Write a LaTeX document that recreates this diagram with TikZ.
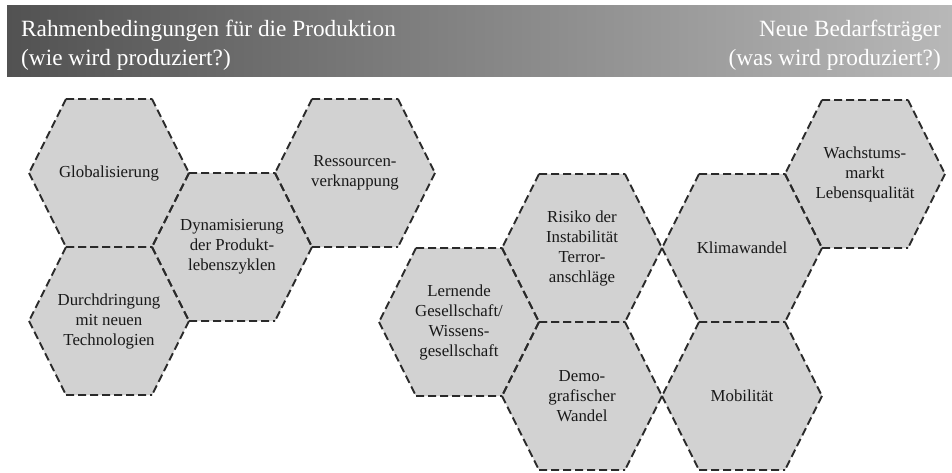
\documentclass[tikz,border=0pt]{standalone}
\usepackage{fontspec}
\setmainfont{Liberation Serif}
\usetikzlibrary{backgrounds}

\definecolor{kopfdunkel}{HTML}{525252}
\definecolor{kopfhell}{HTML}{B8B8B8}
\definecolor{wabegrau}{HTML}{D2D2D2}
\definecolor{kante}{HTML}{2A2A2A}

\begin{document}
\begin{tikzpicture}[x=1pt, y=-1pt]
  % Stile
  \tikzstyle{kopf}=[inner sep=0pt, text=white, font=\fontsize{23.3}{29}\selectfont]
  \tikzstyle{wabetext}=[inner sep=0pt, align=center, text=black!90, font=\fontsize{16.8}{20}\selectfont]
  \tikzstyle{wabefill}=[fill=wabegrau]
  \tikzstyle{wabekante}=[draw=kante, line width=1.9pt, dash pattern=on 8pt off 4pt]

  \useasboundingbox (0,0) rectangle (952,473);

  % Kopfzeile
  \shade[left color=kopfdunkel, right color=kopfhell] (7,6) rectangle (952,77);
  \node[kopf, anchor=west, align=left] (wie) at (21,45) {Rahmenbedingungen f\"ur die Produktion\\(wie wird produziert?)};
  \node[kopf, anchor=east, align=right] (was) at (941,45) {Neue Bedarfstr\"ager\\(was wird produziert?)};

  % Rahmenbedingungen
  \node[wabetext] (glob) at (109,173) {Globalisierung};
  \node[wabetext] (durch) at (109,321) {Durchdringung\\mit neuen\\Technologien};
  \node[wabetext] (dyn) at (232,247) {Dynamisierung\\der Produkt-\\lebenszyklen};
  \node[wabetext] (res) at (355,173) {Ressourcen-\\verknappung};

  % Bedarfstraeger
  \node[wabetext] (lern) at (459,322) {Lernende\\Gesellschaft/\\Wissens-\\gesellschaft};
  \node[wabetext] (risiko) at (582,248) {Risiko der\\Instabilit\"at\\Terror-\\anschl\"age};
  \node[wabetext] (demo) at (582,396) {Demo-\\grafischer\\Wandel};
  \node[wabetext] (klima) at (742,248) {Klimawandel};
  \node[wabetext] (mobil) at (742,396) {Mobilit\"at};
  \node[wabetext] (wachs) at (865,174) {Wachstums-\\markt\\Lebensqualit\"at};

  % Waben
  \begin{scope}[on background layer]
    \foreach \n in {glob,durch,dyn,res,lern,risiko,demo,klima,mobil,wachs}
      \fill[wabefill] (\n.center) +(-80,0) -- +(-43,-74) -- +(43,-74) -- +(80,0) -- +(43,74) -- +(-43,74) -- cycle;
    \foreach \n in {glob,durch,dyn,res,lern,risiko,demo,klima,mobil,wachs}
      \draw[wabekante] (\n.center) +(-43,-74) -- +(43,-74) +(-43,74) -- +(43,74)
        +(-43,-74) -- +(-80,0) +(-80,0) -- +(-43,74)
        +(43,-74) -- +(80,0) +(80,0) -- +(43,74);
  \end{scope}
\end{tikzpicture}
\end{document}
